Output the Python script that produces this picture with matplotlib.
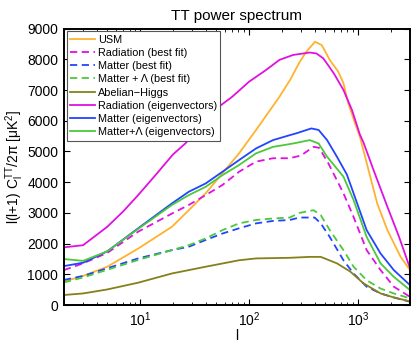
import numpy as np
import matplotlib
matplotlib.use('Agg')
import matplotlib.pyplot as plt

plt.rcParams['font.family'] = ['Liberation Sans', 'DejaVu Sans']
plt.rcParams['mathtext.default'] = 'regular'

# values (l, l(l+1)C_l/2pi in uK^2)
usm_l = [2, 3, 5, 9.6, 19.6, 28, 40, 57, 81, 116, 190, 240, 290, 336, 403, 465, 550, 660, 735, 815, 940, 1040, 1250, 1500, 1860, 2460, 3000]
usm_v = [770, 950, 1250, 1840, 2550, 3090, 3640, 4290, 4940, 5700, 6780, 7350, 7900, 8250, 8570, 8460, 7980, 7590, 7220, 6560, 5910, 5480, 4390, 3310, 2440, 1570, 1140]

rad_bf_l = [2, 3, 5, 9.6, 19.6, 28, 40, 57, 81, 116, 166, 236, 300, 390, 440, 535, 735, 910, 1200, 1610, 2130, 3000]
rad_bf_v = [1140, 1360, 1700, 2390, 2980, 3260, 3580, 3910, 4340, 4670, 4780, 4780, 4870, 5150, 5120, 4610, 3640, 2870, 1790, 1140, 600, 270]

mat_bf_l = [2, 3, 5, 9.6, 19.6, 28, 40, 57, 81, 116, 166, 236, 290, 400, 455, 550, 735, 910, 1200, 1610, 2130, 3000]
mat_bf_v = [820, 950, 1200, 1520, 1790, 1900, 2120, 2330, 2500, 2660, 2740, 2770, 2850, 2850, 2660, 2220, 1460, 1030, 600, 380, 250, 110]

lam_bf_l = [2, 3, 5, 9.6, 19.6, 28, 40, 57, 81, 116, 166, 236, 290, 390, 455, 550, 735, 910, 1200, 1610, 2130, 3000]
lam_bf_v = [740, 900, 1150, 1470, 1790, 1950, 2170, 2440, 2660, 2770, 2820, 2850, 3000, 3090, 2930, 2440, 1790, 1250, 810, 540, 380, 220]

ah_l = [2, 3, 5, 9.6, 19.6, 40, 81, 116, 236, 360, 455, 640, 850, 1120, 1610, 2130, 3000]
ah_v = [330, 380, 510, 730, 1030, 1250, 1460, 1520, 1540, 1570, 1570, 1360, 1090, 710, 380, 250, 120]

rad_ev_l = [2, 3, 5, 7, 9.6, 14, 20, 26, 40, 53, 70, 100, 143, 190, 253, 360, 415, 480, 600, 735, 880, 1040, 1120, 1390, 1860, 2380, 3000]
rad_ev_v = [1880, 1950, 2550, 3050, 3580, 4250, 4900, 5260, 6000, 6460, 6780, 7270, 7650, 7980, 8140, 8220, 8190, 8030, 7540, 7000, 6350, 5550, 5300, 4390, 3200, 2220, 1200]

mat_ev_l = [2, 3, 5, 9.6, 19.6, 28, 40, 57, 81, 116, 166, 236, 271, 373, 435, 520, 640, 790, 910, 1200, 1610, 2130, 3000]
mat_ev_v = [1270, 1380, 1750, 2500, 3310, 3690, 3960, 4340, 4720, 5100, 5370, 5530, 5590, 5750, 5700, 5370, 4830, 4250, 3640, 2440, 1680, 1140, 650]

lam_ev_l = [2, 3, 5, 9.6, 19.6, 28, 40, 57, 81, 116, 166, 236, 271, 360, 435, 520, 735, 910, 1200, 1610, 2130, 3000]
lam_ev_v = [1500, 1440, 1750, 2480, 3260, 3580, 3850, 4230, 4560, 4940, 5150, 5240, 5280, 5370, 5260, 4830, 4180, 3420, 2220, 1360, 920, 490]

orange = '#FFB22E'
magenta = '#E011E0'
blue = '#2244FF'
green = '#4CC83A'
olive = '#85801A'

fig = plt.figure(figsize=(4.15, 3.44), dpi=100)
ax = fig.add_axes([0.154, 0.113, 0.834, 0.804])

lw = 1.3
dash = (0, (4, 2.5))
ax.plot(usm_l, usm_v, color=orange, lw=lw, label='USM')
ax.plot(rad_bf_l, rad_bf_v, color=magenta, lw=lw, ls=dash, label='Radiation (best fit)')
ax.plot(mat_bf_l, mat_bf_v, color=blue, lw=lw, ls=dash, label='Matter (best fit)')
ax.plot(lam_bf_l, lam_bf_v, color=green, lw=lw, ls=dash, label='Matter + \u039b (best fit)')
ax.plot(ah_l, ah_v, color=olive, lw=lw, label='Abelian\u2212Higgs')
ax.plot(rad_ev_l, rad_ev_v, color=magenta, lw=lw, label='Radiation (eigenvectors)')
ax.plot(mat_ev_l, mat_ev_v, color=blue, lw=lw, label='Matter (eigenvectors)')
ax.plot(lam_ev_l, lam_ev_v, color=green, lw=lw, label='Matter+\u039b (eigenvectors)')

ax.set_xscale('log')
ax.set_xlim(2, 3000)
ax.set_ylim(0, 9000)
ax.set_yticks(np.arange(0, 9001, 1000))
ax.tick_params(which='both', direction='in', top=True, right=True, labelsize=10)
ax.tick_params(which='major', length=4, width=0.8, pad=4)
ax.tick_params(which='minor', length=2, width=0.6)
for s in ax.spines.values():
    s.set_linewidth(1.4)

ax.set_title('TT power spectrum', fontsize=11, pad=6)
ax.set_xlabel('l', fontsize=10, labelpad=0)
ax.set_ylabel(r'l(l+1) C$_l^{TT}$/2$\pi$ [$\mu$K$^2$]', fontsize=10, labelpad=1)

leg = ax.legend(loc='upper left', fontsize=7.8, handlelength=2.3, handletextpad=0.3,
                labelspacing=0.3, borderpad=0.3, borderaxespad=0.25, fancybox=False,
                framealpha=1)
leg.get_frame().set_edgecolor('#555555')
leg.get_frame().set_linewidth(0.8)

fig.savefig('out.png', dpi=100)
